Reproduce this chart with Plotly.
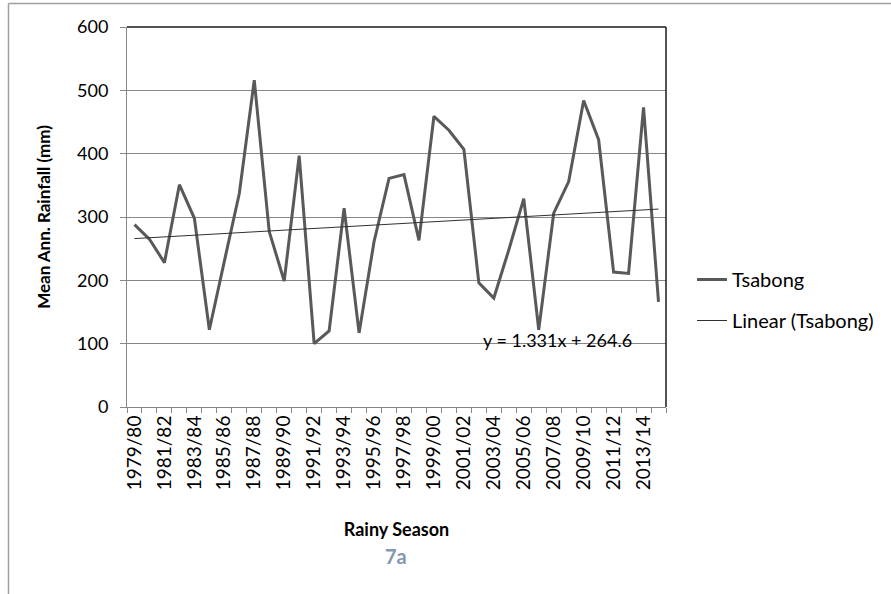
import plotly.graph_objects as go

# Rainy seasons (x axis categories)
seasons = [
    "1979/80", "1980/81", "1981/82", "1982/83", "1983/84", "1984/85",
    "1985/86", "1986/87", "1987/88", "1988/89", "1989/90", "1990/91",
    "1991/92", "1992/93", "1993/94", "1994/95", "1995/96", "1996/97",
    "1997/98", "1998/99", "1999/00", "2000/01", "2001/02", "2002/03",
    "2003/04", "2004/05", "2005/06", "2006/07", "2007/08", "2008/09",
    "2009/10", "2010/11", "2011/12", "2012/13", "2013/14", "2014/15",
]

# Mean annual rainfall at Tsabong (mm)
rainfall = [
    288, 265, 228, 351, 298, 122, 230, 337, 516, 277, 199, 397,
    100, 120, 314, 117, 261, 361, 367, 263, 459, 437, 407, 196,
    172, 248, 329, 122, 306, 356, 484, 422, 213, 211, 473, 166,
]

# Linear trend  y = slope * x + intercept  (x = season number, 1-based)
slope = 1.331
intercept = 264.6

season_no = list(range(1, len(seasons) + 1))
trend = [slope * x + intercept for x in season_no]

FONT = "Lato"
GRID = "#878787"

fig = go.Figure()
fig.add_trace(go.Scatter(
    x=season_no, y=rainfall, mode="lines", name="Tsabong",
    line=dict(color="#595959", width=3), legendgroup="a",
))
fig.add_trace(go.Scatter(
    x=season_no, y=trend, mode="lines", name="Linear (Tsabong)",
    line=dict(color="#303030", width=1), legendgroup="b",
))

L, R, T, B = 127, 225, 27, 187
W, H = 891, 594
pw, ph = W - L - R, H - T - B


def px_x(p):
    return (p - L) / pw


def px_y(p):
    return (H - B - p) / ph


fig.update_layout(
    width=W, height=H,
    margin=dict(l=L, r=R, t=T, b=B, autoexpand=False),
    paper_bgcolor="white", plot_bgcolor="white",
    font=dict(family=FONT, size=18, color="black"),
    showlegend=True,
    legend=dict(
        x=px_x(692), y=px_y(300), xanchor="left", yanchor="middle",
        traceorder="grouped", tracegroupgap=12,
        font=dict(size=20), bgcolor="rgba(0,0,0,0)",
    ),
    xaxis=dict(
        range=[0.5, len(seasons) + 0.5],
        tickmode="array",
        tickvals=season_no[::2], ticktext=seasons[::2],
        tickangle=-90, ticks="", showgrid=False, zeroline=False,
        showline=True, linecolor=GRID, linewidth=1,
        tickfont=dict(size=19),
        minor=dict(
            tickvals=[i + 0.5 for i in range(len(seasons) + 1)],
            ticks="outside", ticklen=5, tickcolor=GRID, showgrid=False,
        ),
        title=dict(text="<b>Rainy Season</b>", font=dict(size=18), standoff=34),
    ),
    yaxis=dict(
        range=[0, 600], tickmode="linear", dtick=100,
        showgrid=True, gridcolor=GRID, gridwidth=1, zeroline=False,
        showline=True, linecolor=GRID, linewidth=1,
        ticks="outside", ticklen=6, tickcolor=GRID,
        ticklabelstandoff=8, tickfont=dict(size=18),
        title=dict(text="<b>Mean Ann. Rainfall (mm)</b>", font=dict(size=17), standoff=22),
    ),
    annotations=[
        dict(text="y = 1.331x + 264.6", x=px_x(557), y=px_y(340),
             xref="paper", yref="paper", xanchor="center", yanchor="middle",
             showarrow=False, font=dict(size=18, color="black")),
        dict(text="<b>7a</b>", x=px_x(396), y=px_y(556),
             xref="paper", yref="paper", xanchor="center", yanchor="middle",
             showarrow=False, font=dict(size=20, color="#8497b0")),
    ],
    shapes=[
        # plot area top and right border
        dict(type="line", xref="paper", yref="paper", x0=0, x1=1, y0=1, y1=1,
             line=dict(color="#1a1a1a", width=1.5)),
        dict(type="line", xref="paper", yref="paper", x0=1, x1=1, y0=0, y1=1,
             line=dict(color="#1a1a1a", width=1.5)),
        # outer chart frame (left and top edges)
        dict(type="line", xref="paper", yref="paper",
             x0=px_x(8.5), x1=px_x(8.5), y0=px_y(3.5), y1=px_y(600),
             line=dict(color="#a0a0a0", width=1.5)),
        dict(type="line", xref="paper", yref="paper",
             x0=px_x(8.5), x1=px_x(900), y0=px_y(3.5), y1=px_y(3.5),
             line=dict(color="#a0a0a0", width=1.5)),
    ],
)

fig.write_html("out.html")
